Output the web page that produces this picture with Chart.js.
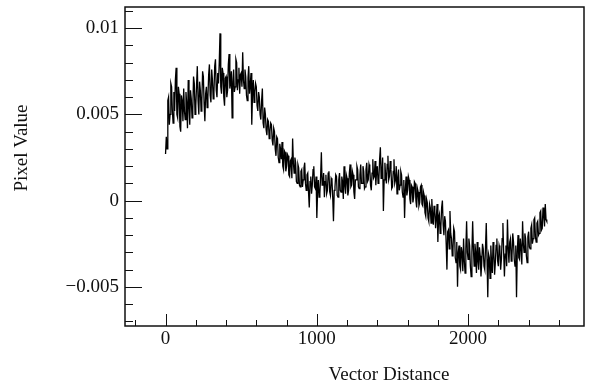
<!DOCTYPE html>
<html>
<head>
<meta charset="utf-8">
<script src="https://cdn.jsdelivr.net/npm/chart.js@4"></script>
<style>
  body { margin: 0; background: #fff; }
  canvas { display: block; }
</style>
</head>
<body>
<canvas id="chart" width="591" height="380"></canvas>
<script>
// sample positions along the vector
const vectorDistance = [
    0, 5, 10, 15, 20, 25, 30, 35, 40, 45, 50, 55, 60, 65, 70, 75, 80, 85, 90, 95,
    100, 105, 110, 115, 120, 125, 130, 135, 140, 145, 150, 155, 160, 165, 170, 175, 180, 185, 190, 195,
    200, 205, 210, 215, 220, 225, 230, 235, 240, 245, 250, 255, 260, 265, 270, 275, 280, 285, 290, 295,
    300, 305, 310, 315, 320, 325, 330, 335, 340, 345, 350, 355, 360, 365, 370, 375, 380, 385, 390, 395,
    400, 405, 410, 415, 420, 425, 430, 435, 440, 445, 450, 455, 460, 465, 470, 475, 480, 485, 490, 495,
    500, 505, 510, 515, 520, 525, 530, 535, 540, 545, 550, 555, 560, 565, 570, 575, 580, 585, 590, 595,
    600, 605, 610, 615, 620, 625, 630, 635, 640, 645, 650, 655, 660, 665, 670, 675, 680, 685, 690, 695,
    700, 705, 710, 715, 720, 725, 730, 735, 740, 745, 750, 755, 760, 765, 770, 775, 780, 785, 790, 795,
    800, 805, 810, 815, 820, 825, 830, 835, 840, 845, 850, 855, 860, 865, 870, 875, 880, 885, 890, 895,
    900, 905, 910, 915, 920, 925, 930, 935, 940, 945, 950, 955, 960, 965, 970, 975, 980, 985, 990, 995,
    1000, 1005, 1010, 1015, 1020, 1025, 1030, 1035, 1040, 1045, 1050, 1055, 1060, 1065, 1070, 1075, 1080, 1085, 1090, 1095,
    1100, 1105, 1110, 1115, 1120, 1125, 1130, 1135, 1140, 1145, 1150, 1155, 1160, 1165, 1170, 1175, 1180, 1185, 1190, 1195,
    1200, 1205, 1210, 1215, 1220, 1225, 1230, 1235, 1240, 1245, 1250, 1255, 1260, 1265, 1270, 1275, 1280, 1285, 1290, 1295,
    1300, 1305, 1310, 1315, 1320, 1325, 1330, 1335, 1340, 1345, 1350, 1355, 1360, 1365, 1370, 1375, 1380, 1385, 1390, 1395,
    1400, 1405, 1410, 1415, 1420, 1425, 1430, 1435, 1440, 1445, 1450, 1455, 1460, 1465, 1470, 1475, 1480, 1485, 1490, 1495,
    1500, 1505, 1510, 1515, 1520, 1525, 1530, 1535, 1540, 1545, 1550, 1555, 1560, 1565, 1570, 1575, 1580, 1585, 1590, 1595,
    1600, 1605, 1610, 1615, 1620, 1625, 1630, 1635, 1640, 1645, 1650, 1655, 1660, 1665, 1670, 1675, 1680, 1685, 1690, 1695,
    1700, 1705, 1710, 1715, 1720, 1725, 1730, 1735, 1740, 1745, 1750, 1755, 1760, 1765, 1770, 1775, 1780, 1785, 1790, 1795,
    1800, 1805, 1810, 1815, 1820, 1825, 1830, 1835, 1840, 1845, 1850, 1855, 1860, 1865, 1870, 1875, 1880, 1885, 1890, 1895,
    1900, 1905, 1910, 1915, 1920, 1925, 1930, 1935, 1940, 1945, 1950, 1955, 1960, 1965, 1970, 1975, 1980, 1985, 1990, 1995,
    2000, 2005, 2010, 2015, 2020, 2025, 2030, 2035, 2040, 2045, 2050, 2055, 2060, 2065, 2070, 2075, 2080, 2085, 2090, 2095,
    2100, 2105, 2110, 2115, 2120, 2125, 2130, 2135, 2140, 2145, 2150, 2155, 2160, 2165, 2170, 2175, 2180, 2185, 2190, 2195,
    2200, 2205, 2210, 2215, 2220, 2225, 2230, 2235, 2240, 2245, 2250, 2255, 2260, 2265, 2270, 2275, 2280, 2285, 2290, 2295,
    2300, 2305, 2310, 2315, 2320, 2325, 2330, 2335, 2340, 2345, 2350, 2355, 2360, 2365, 2370, 2375, 2380, 2385, 2390, 2395,
    2400, 2405, 2410, 2415, 2420, 2425, 2430, 2435, 2440, 2445, 2450, 2455, 2460, 2465, 2470, 2475, 2480, 2485, 2490, 2495,
    2500, 2505, 2510, 2515, 2520
];

// values
const pixelValue = [
    0.0027, 0.0037, 0.0030, 0.0058, 0.0060, 0.0044, 0.0050, 0.0068, 0.0066, 0.0052, 0.0045, 0.0063, 0.0052, 0.0070, 0.0077, 0.0050, 0.0048, 0.0066, 0.0062, 0.0043,
    0.0040, 0.0061, 0.0058, 0.0046, 0.0065, 0.0052, 0.0047, 0.0063, 0.0056, 0.0042, 0.0070, 0.0055, 0.0044, 0.0064, 0.0059, 0.0048, 0.0052, 0.0072, 0.0068, 0.0050,
    0.0055, 0.0067, 0.0078, 0.0058, 0.0050, 0.0069, 0.0064, 0.0052, 0.0058, 0.0075, 0.0072, 0.0056, 0.0046, 0.0062, 0.0066, 0.0054, 0.0060, 0.0073, 0.0079, 0.0061,
    0.0057, 0.0076, 0.0070, 0.0059, 0.0063, 0.0078, 0.0082, 0.0064, 0.0060, 0.0074, 0.0068, 0.0080, 0.0097, 0.0066, 0.0062, 0.0077, 0.0074, 0.0060, 0.0055, 0.0071,
    0.0072, 0.0060, 0.0064, 0.0079, 0.0085, 0.0065, 0.0068, 0.0075, 0.0048, 0.0069, 0.0076, 0.0063, 0.0066, 0.0082, 0.0080, 0.0064, 0.0070, 0.0077, 0.0062, 0.0073,
    0.0074, 0.0066, 0.0086, 0.0070, 0.0065, 0.0076, 0.0072, 0.0061, 0.0058, 0.0071, 0.0078, 0.0062, 0.0067, 0.0074, 0.0044, 0.0062, 0.0070, 0.0057, 0.0063, 0.0068,
    0.0066, 0.0055, 0.0052, 0.0063, 0.0060, 0.0050, 0.0047, 0.0058, 0.0065, 0.0045, 0.0042, 0.0054, 0.0050, 0.0041, 0.0038, 0.0047, 0.0046, 0.0036, 0.0040, 0.0045,
    0.0044, 0.0035, 0.0032, 0.0042, 0.0040, 0.0030, 0.0026, 0.0037, 0.0036, 0.0025, 0.0022, 0.0033, 0.0030, 0.0024, 0.0034, 0.0020, 0.0018, 0.0029, 0.0028, 0.0017,
    0.0020, 0.0027, 0.0026, 0.0015, 0.0014, 0.0023, 0.0024, 0.0013, 0.0036, 0.0022, 0.0016, 0.0025, 0.0022, 0.0011, 0.0010, 0.0021, 0.0019, 0.0009, 0.0008, 0.0017,
    0.0018, 0.0008, 0.0012, 0.0019, 0.0022, 0.0010, 0.0006, 0.0015, 0.0016, 0.0005, -0.0004, 0.0011, 0.0014, 0.0004, 0.0009, 0.0018, 0.0020, 0.0008, 0.0007, 0.0014,
    -0.0010, 0.0005, 0.0012, 0.0002, 0.0004, 0.0014, 0.0028, 0.0009, 0.0010, 0.0016, 0.0002, 0.0011, 0.0015, 0.0004, 0.0006, 0.0016, 0.0017, 0.0005, 0.0003, 0.0013,
    0.0012, 0.0002, -0.0012, 0.0006, 0.0008, 0.0015, 0.0014, 0.0003, 0.0002, 0.0012, 0.0016, 0.0006, 0.0005, 0.0014, 0.0011, 0.0001, 0.0020, 0.0009, 0.0004, 0.0015,
    0.0013, 0.0003, 0.0006, 0.0016, 0.0021, 0.0008, 0.0009, 0.0017, 0.0015, 0.0005, 0.0001, 0.0012, 0.0012, 0.0020, 0.0018, 0.0008, 0.0007, 0.0015, 0.0021, 0.0010,
    0.0010, 0.0020, 0.0017, 0.0007, 0.0008, 0.0018, 0.0022, 0.0011, 0.0012, 0.0021, 0.0019, 0.0009, 0.0006, 0.0016, 0.0024, 0.0013, 0.0014, 0.0023, 0.0009, 0.0017,
    0.0020, 0.0010, 0.0012, 0.0024, 0.0031, 0.0013, 0.0016, 0.0025, -0.0006, 0.0012, 0.0022, 0.0014, 0.0010, 0.0021, 0.0026, 0.0012, 0.0014, 0.0023, 0.0018, 0.0007,
    0.0008, 0.0017, 0.0024, 0.0010, 0.0012, 0.0020, 0.0004, 0.0013, 0.0018, 0.0006, 0.0009, 0.0017, 0.0015, 0.0005, 0.0002, 0.0012, -0.0010, 0.0006, 0.0014, 0.0003,
    0.0006, 0.0014, 0.0012, 0.0001, -0.0002, 0.0009, 0.0008, -0.0001, 0.0002, 0.0011, 0.0010, 0.0000, -0.0004, 0.0007, 0.0005, -0.0003, -0.0001, 0.0008, 0.0009, -0.0002,
    -0.0003, 0.0005, 0.0003, -0.0007, -0.0009, 0.0001, -0.0001, -0.0010, -0.0012, -0.0002, -0.0004, -0.0013, 0.0001, -0.0008, -0.0014, -0.0003, -0.0006, -0.0016, -0.0010, -0.0002,
    -0.0024, -0.0010, -0.0008, -0.0019, -0.0015, -0.0004, 0.0000, -0.0014, -0.0020, -0.0009, -0.0012, -0.0025, -0.0040, -0.0018, -0.0017, -0.0028, -0.0006, -0.0019, -0.0022, -0.0032,
    -0.0028, -0.0016, -0.0018, -0.0033, -0.0036, -0.0024, -0.0050, -0.0030, -0.0026, -0.0038, -0.0040, -0.0027, -0.0030, -0.0041, -0.0022, -0.0035, -0.0042, -0.0028, -0.0012, -0.0030,
    -0.0034, -0.0022, -0.0026, -0.0038, -0.0044, -0.0030, -0.0012, -0.0028, -0.0038, -0.0025, -0.0030, -0.0042, -0.0024, -0.0035, -0.0040, -0.0027, -0.0032, -0.0044, -0.0036, -0.0025,
    -0.0028, -0.0038, -0.0040, -0.0027, -0.0013, -0.0034, -0.0056, -0.0031, -0.0033, -0.0045, -0.0026, -0.0036, -0.0042, -0.0024, -0.0030, -0.0043, -0.0036, -0.0026, -0.0022, -0.0035,
    -0.0038, -0.0026, -0.0028, -0.0040, -0.0034, -0.0022, -0.0013, -0.0030, -0.0044, -0.0031, -0.0026, -0.0038, -0.0011, -0.0027, -0.0036, -0.0024, -0.0022, -0.0035, -0.0032, -0.0019,
    -0.0024, -0.0034, -0.0038, -0.0026, -0.0056, -0.0030, -0.0020, -0.0033, -0.0034, -0.0022, -0.0027, -0.0037, -0.0012, -0.0025, -0.0030, -0.0019, -0.0022, -0.0032, -0.0036, -0.0021,
    -0.0018, -0.0027, -0.0028, -0.0016, -0.0014, -0.0025, -0.0022, -0.0011, -0.0010, -0.0021, -0.0024, -0.0013, -0.0012, -0.0020, -0.0019, -0.0007, -0.0006, -0.0017, -0.0016, -0.0004,
    -0.0008, -0.0015, -0.0002, -0.0011, -0.0012
];

const xTickValues = [0, 1000, 2000];
const xTickLabels = ["0", "1000", "2000"];
const yTickValues = [-0.005, 0, 0.005, 0.01];
const yTickLabels = ["\u22120.005", "0", "0.005", "0.01"];

const font = { family: "'Liberation Serif', 'DejaVu Serif', serif", size: 19 };

function labelFor(values, labels, v) {
    for (let i = 0; i < values.length; i++) {
        if (Math.abs(values[i] - v) < 1e-9) return labels[i];
    }
    return "";
}

// ROOT style frame, inward ticks and axis titles
const framePlugin = {
    id: "frame",
    afterDraw(chart) {
        const ctx = chart.ctx;
        const a = chart.chartArea;
        const xs = chart.scales.x;
        const ys = chart.scales.y;
        ctx.save();
        ctx.strokeStyle = "#111";
        ctx.lineWidth = 1;
        xs.ticks.forEach(t => {
            const px = Math.round(xs.getPixelForValue(t.value)) + 0.5;
            const major = labelFor(xTickValues, xTickLabels, t.value) !== "";
            ctx.beginPath();
            ctx.moveTo(px, a.bottom);
            ctx.lineTo(px, a.bottom - (major ? 12 : 6));
            ctx.stroke();
        });
        ys.ticks.forEach(t => {
            const py = Math.round(ys.getPixelForValue(t.value)) + 0.5;
            const major = labelFor(yTickValues, yTickLabels, t.value) !== "";
            ctx.beginPath();
            ctx.moveTo(a.left, py);
            ctx.lineTo(a.left + (major ? 17 : 8), py);
            ctx.stroke();
        });
        ctx.lineWidth = 1.5;
        ctx.strokeRect(a.left, a.top, a.right - a.left, a.bottom - a.top);

        ctx.fillStyle = "#111";
        ctx.font = font.size + "px " + font.family;
        ctx.textBaseline = "alphabetic";
        ctx.textAlign = "center";
        ctx.fillText("Vector Distance", 389, 380);
        ctx.translate(27, 148);
        ctx.rotate(-Math.PI / 2);
        ctx.fillText("Pixel Value", 0, 0);
        ctx.restore();
    }
};

new Chart(document.getElementById("chart"), {
    type: "line",
    data: {
        datasets: [{
            data: vectorDistance.map((d, i) => ({ x: d, y: pixelValue[i] })),
            borderColor: "#000",
            borderWidth: 1.3,
            pointRadius: 0,
            tension: 0,
            fill: false
        }]
    },
    options: {
        responsive: false,
        animation: false,
        devicePixelRatio: 1,
        layout: { padding: { top: 7, right: 7, left: 0, bottom: 0 } },
        plugins: { legend: { display: false }, tooltip: { enabled: false } },
        scales: {
            x: {
                type: "linear",
                min: -268,
                max: 2766,
                afterBuildTicks(scale) {
                    const t = [];
                    for (let k = -1; k <= 13; k++) t.push({ value: k * 200 });
                    scale.ticks = t;
                },
                afterFit(scale) {
                    scale.height = 54;
                    scale.paddingLeft = 0;
                    scale.paddingRight = 0;
                },
                grid: { display: false, drawTicks: false },
                border: { display: false },
                ticks: {
                    autoSkip: false,
                    maxRotation: 0,
                    padding: 2,
                    color: "#111",
                    font: font,
                    callback: v => labelFor(xTickValues, xTickLabels, v)
                }
            },
            y: {
                min: -0.00727,
                max: 0.01123,
                afterBuildTicks(scale) {
                    const t = [];
                    for (let k = -7; k <= 11; k++) t.push({ value: k / 1000 });
                    scale.ticks = t;
                },
                afterFit(scale) {
                    scale.width = 125;
                    scale.paddingTop = 0;
                    scale.paddingBottom = 0;
                },
                grid: { display: false, drawTicks: false },
                border: { display: false },
                ticks: {
                    autoSkip: false,
                    padding: 6,
                    color: "#111",
                    font: font,
                    callback: v => labelFor(yTickValues, yTickLabels, v)
                }
            }
        }
    },
    plugins: [framePlugin]
});
</script>
</body>
</html>
